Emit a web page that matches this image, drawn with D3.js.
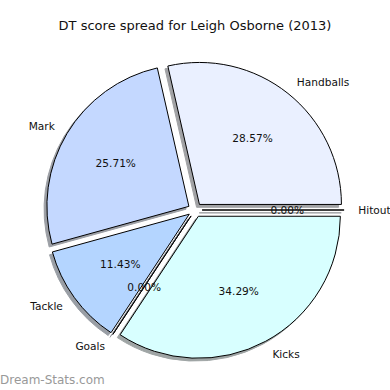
<!DOCTYPE html>
<html><head><meta charset="utf-8">
<script src="https://cdnjs.cloudflare.com/ajax/libs/d3/7.8.5/d3.min.js"></script>
<style>html,body{margin:0;padding:0;background:#fff;}svg{display:block;}</style>
</head><body>
<script>
const title = "DT score spread for Leigh Osborne (2013)";
const categories = ["Handballs", "Mark", "Tackle", "Goals", "Kicks", "Hitout"];
const values = [10, 9, 4, 0, 12, 0];
const colors = ["#eaf0ff", "#c4d8ff", "#b4d5ff", "#b4d5ff", "#d8ffff", "#ddeeff"];
const explode = [0.05, 0.05, 0.05, 0.05, 0.05, 0.05];
const watermark = "Dream-Stats.com";

const W = 390, H = 390;
const cx = 195, cy = 210, R = 142;
const svg = d3.select("body").append("svg").attr("width", W).attr("height", H)
  .style("font-family", "'DejaVu Sans', sans-serif");

const x = d3.scaleLinear().domain([-1, 1]).range([cx - R, cx + R]);
const y = d3.scaleLinear().domain([-1, 1]).range([cy + R, cy - R]);
const rs = d3.scaleLinear().domain([0, 1]).range([0, R]);

const total = d3.sum(values);
const pie = d3.pie().sort(null).startAngle(0).endAngle(2 * Math.PI);
const arcsData = pie(values).map((d, i) => {
  const a0 = d.startAngle, a1 = d.endAngle; // math angles, ccw from east
  const mid = (a0 + a1) / 2;
  const ex = explode[i];
  return {i, a0, a1, mid, ux: ex * Math.cos(mid), uy: ex * Math.sin(mid), v: d.value};
});
const arc = d3.arc().innerRadius(0).outerRadius(rs(1));
function pathFor(d) {
  return arc({startAngle: Math.PI / 2 - d.a1, endAngle: Math.PI / 2 - d.a0});
}
function shade(c) {
  const k = d3.rgb(c);
  return d3.rgb(k.r * 0.3, k.g * 0.3, k.b * 0.3).toString();
}
// shadows
svg.append("g").selectAll("path").data(arcsData).join("path")
  .attr("transform", d => `translate(${x(d.ux - 0.02)},${y(d.uy - 0.02)})`)
  .attr("d", pathFor)
  .attr("fill", d => shade(colors[d.i]))
  .attr("stroke", d => shade(colors[d.i]))
  .attr("stroke-width", 1)
  .attr("opacity", 0.5);
// wedges
svg.append("g").selectAll("path").data(arcsData).join("path")
  .attr("transform", d => `translate(${x(d.ux)},${y(d.uy)})`)
  .attr("d", pathFor)
  .attr("fill", d => colors[d.i])
  .attr("stroke", "#000")
  .attr("stroke-width", 1)
  .attr("stroke-linejoin", "miter");
// labels
svg.append("g").selectAll("text").data(arcsData).join("text")
  .attr("x", d => x(d.ux + 1.1 * Math.cos(d.mid)))
  .attr("y", d => y(d.uy + 1.1 * Math.sin(d.mid)))
  .attr("text-anchor", d => Math.cos(d.mid) > 0 ? "start" : "end")
  .attr("dominant-baseline", "central")
  .attr("font-size", 10.6)
  .attr("fill", "#111")
  .text(d => categories[d.i]);
// percentages
svg.append("g").selectAll("text").data(arcsData).join("text")
  .attr("x", d => x(d.ux + 0.6 * Math.cos(d.mid)))
  .attr("y", d => y(d.uy + 0.6 * Math.sin(d.mid)))
  .attr("text-anchor", "middle")
  .attr("dominant-baseline", "central")
  .attr("font-size", 10.6)
  .attr("fill", "#111")
  .text(d => (100 * d.v / total).toFixed(2) + "%");
// title
svg.append("text").attr("x", 195).attr("y", 25).attr("text-anchor", "middle")
  .attr("dominant-baseline", "central").attr("font-size", 13).attr("fill", "#111").text(title);
// watermark
svg.append("text").attr("x", 0).attr("y", 380).attr("dominant-baseline", "central")
  .attr("font-size", 12).attr("fill", "#999").text(watermark);
</script>
</body></html>
